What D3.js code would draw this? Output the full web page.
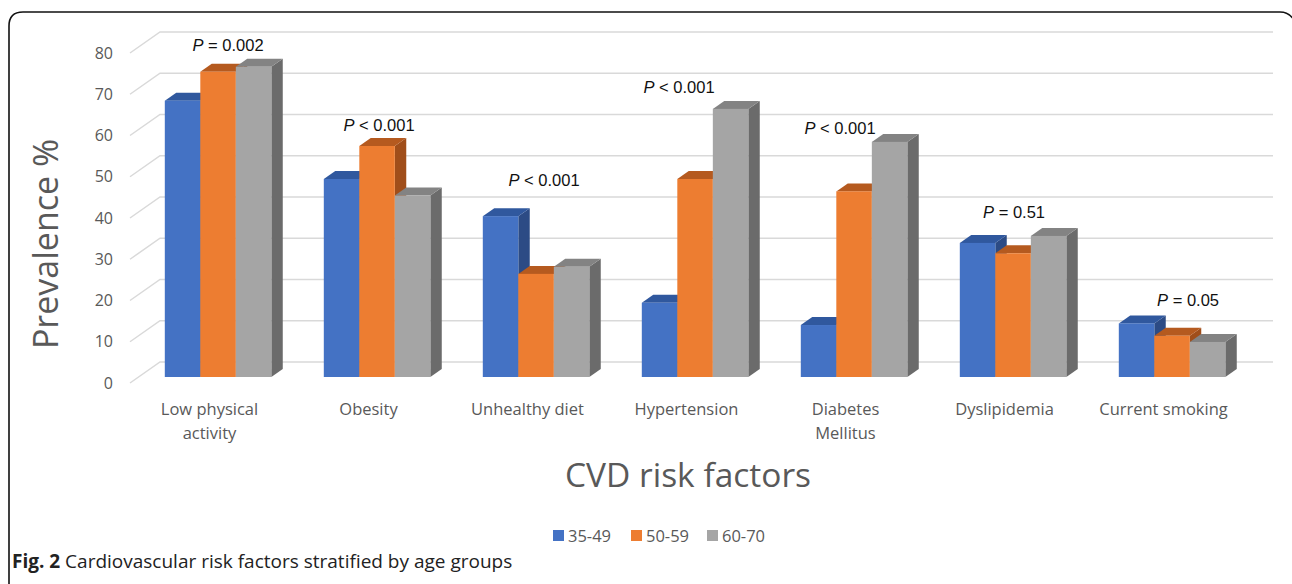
<!DOCTYPE html>
<html>
<head>
<meta charset="utf-8">
<script src="https://cdn.jsdelivr.net/npm/d3@7"></script>
<style>
  body { margin: 0; background: #fff; }
  svg { display: block; }
</style>
</head>
<body>
<div id="chart"></div>
<script>
// data
const categories = ["Low physical activity", "Obesity", "Unhealthy diet", "Hypertension",
  "Diabetes Mellitus", "Dyslipidemia", "Current smoking"];
const categoryLines = [["Low physical", "activity"], ["Obesity"], ["Unhealthy diet"], ["Hypertension"],
  ["Diabetes", "Mellitus"], ["Dyslipidemia"], ["Current smoking"]];
const seriesNames = ["35-49", "50-59", "60-70"];
const age3549 = [67, 48, 39, 18, 12.6, 32.5, 13];
const age5059 = [74, 56, 25, 48, 45, 30, 10];
const age6070 = [75.2, 44, 26.7, 65, 57, 34.2, 8.5];
const pValues = ["= 0.002", "< 0.001", "< 0.001", "< 0.001", "< 0.001", "= 0.51", "= 0.05"];
const yTicks = [0, 10, 20, 30, 40, 50, 60, 70, 80];

// where the p labels sit (value units, pixel nudge)
const pLabelY = [80.5, 61, 47.8, 70.3, 60.4, 40, 18.7];
const pLabelDx = [10, 2, 8, -16, -14, 1, 16];

const W = 1292, H = 584;
const colors = {
  "35-49": { front: "#4472c4", top: "#30589e", side: "#2c4b85" },
  "50-59": { front: "#ed7d31", top: "#b55a1f", side: "#a04e1a" },
  "60-70": { front: "#a5a5a5", top: "#838383", side: "#6b6b6b" }
};

const svg = d3.select("#chart").append("svg")
  .attr("width", W).attr("height", H);

// frame round the figure
svg.append("path")
  .attr("d", "M9,584 L9,26 Q9,12 23,12 L1280,12 Q1291,12 1296,24")
  .attr("fill", "none").attr("stroke", "#111").attr("stroke-width", 1.6);

// scales on the front plane
const x0 = d3.scaleBand().domain(categories).range([130, 1243]).padding(0);
const groupW = x0.bandwidth() * 0.67;
const x1 = d3.scaleBand().domain(seriesNames).range([0, groupW]).padding(0);
const y = d3.scaleLinear().domain([0, 80]).range([383, 53]);

// oblique depth
const DX = 30, DY = -21;
const dFront = 6 / 21, dBack = 14 / 21;
const off = d => [DX * d, DY * d];

// gridlines: side wall diagonals + back wall
const grid = svg.append("g").attr("stroke", "#d9d9d9").attr("stroke-width", 1.5).attr("fill", "none");
yTicks.forEach(v => {
  const y0 = y(v);
  grid.append("path")
    .attr("d", `M130,${y0} L${130 + DX},${y0 + DY} L${x0.range()[1] + DX},${y0 + DY}`);
});

// y tick labels
svg.append("g").selectAll("text").data(yTicks).enter().append("text")
  .attr("x", 113).attr("y", d => y(d))
  .attr("dy", "0.35em")
  .attr("text-anchor", "end")
  .attr("font-family", "Open Sans, sans-serif").attr("font-size", 16)
  .attr("fill", "#595959")
  .text(d => d);

// bars
const rows = categories.map((c, i) => ({
  cat: c,
  vals: [
    { s: "35-49", v: age3549[i] },
    { s: "50-59", v: age5059[i] },
    { s: "60-70", v: age6070[i] }
  ]
}));

const [fx, fy] = off(dFront);
const [bx, by] = off(dBack);
const ddx = bx - fx, ddy = by - fy;

const bars = svg.append("g");
rows.forEach(r => {
  const gx = x0(r.cat) + (x0.bandwidth() - groupW) / 2 + fx;
  r.vals.forEach(d => {
    const xl = gx + x1(d.s), xr = xl + x1.bandwidth();
    const yt = y(d.v) + fy, yb = y(0) + fy;
    const c = colors[d.s];
    const g = bars.append("g");
    // side face
    g.append("polygon")
      .attr("points", [[xr, yt], [xr + ddx, yt + ddy], [xr + ddx, yb + ddy], [xr, yb]].join(" "))
      .attr("fill", c.side);
    // top face
    g.append("polygon")
      .attr("points", [[xl, yt], [xr, yt], [xr + ddx, yt + ddy], [xl + ddx, yt + ddy]].join(" "))
      .attr("fill", c.top);
    // front face
    g.append("rect")
      .attr("x", xl).attr("y", yt)
      .attr("width", xr - xl).attr("height", yb - yt)
      .attr("fill", c.front);
  });
});

// p value labels
const pl = svg.append("g");
categories.forEach((c, i) => {
  const t = pl.append("text")
    .attr("x", x0(c) + x0.bandwidth() / 2 + fx + pLabelDx[i])
    .attr("y", y(pLabelY[i]) + fy)
    .attr("dy", "0.35em")
    .attr("text-anchor", "middle")
    .attr("font-family", "Liberation Sans, Arial, sans-serif").attr("font-size", 16.5)
    .attr("fill", "#111");
  t.append("tspan").attr("font-style", "italic").text("P");
  t.append("tspan").text(" " + pValues[i]);
});

// category labels
const cl = svg.append("g");
categories.forEach((c, i) => {
  const t = cl.append("text")
    .attr("x", x0(c) + x0.bandwidth() / 2)
    .attr("y", 415)
    .attr("text-anchor", "middle")
    .attr("font-family", "Open Sans, sans-serif").attr("font-size", 16.5)
    .attr("fill", "#595959");
  categoryLines[i].forEach((ln, k) => {
    t.append("tspan").attr("x", x0(c) + x0.bandwidth() / 2).attr("dy", k === 0 ? 0 : 24).text(ln);
  });
});

// axis titles
svg.append("text")
  .attr("transform", "translate(58,244) rotate(-90)")
  .attr("text-anchor", "middle")
  .attr("font-family", "Open Sans, sans-serif").attr("font-size", 34)
  .attr("fill", "#595959")
  .text("Prevalence %");

svg.append("text")
  .attr("x", 688).attr("y", 487)
  .attr("text-anchor", "middle")
  .attr("font-family", "Open Sans, sans-serif").attr("font-size", 33.5)
  .attr("fill", "#595959")
  .text("CVD risk factors");

// legend
const legendX = [553, 631, 707];
const lg = svg.append("g");
seriesNames.forEach((s, i) => {
  lg.append("rect").attr("x", legendX[i]).attr("y", 530).attr("width", 11).attr("height", 11)
    .attr("fill", colors[s].front);
  lg.append("text").attr("x", legendX[i] + 15).attr("y", 536).attr("dy", "0.35em")
    .attr("font-family", "Open Sans, sans-serif").attr("font-size", 16.5)
    .attr("fill", "#595959").text(s);
});

// caption
const cap = svg.append("text").attr("x", 12).attr("y", 568)
  .attr("font-family", "Open Sans, sans-serif").attr("font-size", 19).attr("fill", "#222");
cap.append("tspan").attr("font-weight", "bold").text("Fig. 2");
cap.append("tspan").text(" Cardiovascular risk factors stratified by age groups");
</script>
</body>
</html>
